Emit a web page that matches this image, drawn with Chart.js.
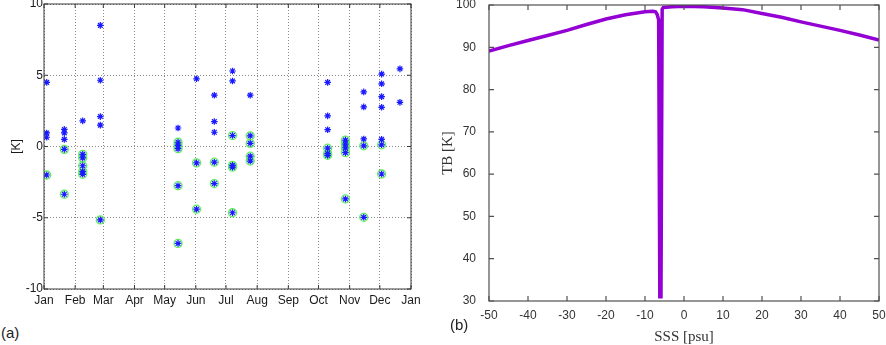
<!DOCTYPE html>
<html>
<head>
<meta charset="utf-8">
<script src="https://cdn.jsdelivr.net/npm/chart.js@4"></script>
<style>
  body { margin: 0; background: #fff; width: 886px; height: 345px; overflow: hidden; position: relative; }
  canvas { position: absolute; }
  #ecarts { left: 0; top: -10px; }
  #tb { left: 420px; top: -10px; }
  .lettre { position: absolute; font: 15px "Liberation Sans", Arial, sans-serif; color: #222; }
</style>
</head>
<body>
<canvas id="ecarts" width="440" height="320"></canvas>
<canvas id="tb" width="476" height="355"></canvas>
<div class="lettre" style="left:1px; top:324px;">(a)</div>
<div class="lettre" style="left:450px; top:316px;">(b)</div>
<script>
// (a) ecarts en K, jour de l'annee (0 = 1er janvier)
const jours = [
  2.7, 2.7, 2.7, 2.7,
  20.2, 20.2, 20.2, 20.2, 20.2,
  38.5, 38.5, 38.5, 38.5, 38.5, 38.5,
  56, 56, 56, 56, 56,
  133.3, 133.3, 133.3, 133.3, 133.3, 133.3,
  151.7, 151.7, 151.7,
  169.4, 169.4, 169.4, 169.4, 169.4,
  187.5, 187.5, 187.5, 187.5, 187.5, 187.5,
  205.1, 205.1, 205.1, 205.1, 205.1,
  282.1, 282.1, 282.1, 282.1, 282.1, 282.1,
  299.8, 299.8, 299.8, 299.8, 299.8,
  318, 318, 318, 318, 318,
  335.8, 335.8, 335.8, 335.8, 335.8, 335.8, 335.8,
  354, 354
];
const ecartsK = [
  4.5, 0.95, 0.65, -2.0,
  1.2, 0.95, 0.5, -0.2, -3.35,
  1.8, -0.55, -0.8, -1.35, -1.75, -1.95,
  8.5, 4.65, 2.1, 1.5, -5.15,
  1.3, 0.3, 0.08, -0.15, -2.75, -6.8,
  4.75, -1.15, -4.4,
  3.6, 1.75, 1.0, -1.1, -2.6,
  5.3, 4.6, 0.77, -1.32, -1.45, -4.65,
  3.6, 0.75, 0.22, -0.68, -1.02,
  4.5, 2.15, 1.18, -0.12, -0.5, -0.62,
  0.45, 0.17, -0.1, -0.43, -3.68,
  3.83, 2.78, 0.53, 0.05, -4.97,
  5.08, 4.4, 3.5, 2.75, 0.5, 0.12, -1.93,
  5.45, 3.1
];
// 1 = point entoure d'un cercle vert
const entoures = [
  0, 0, 0, 1,
  0, 0, 0, 1, 1,
  0, 1, 1, 1, 1, 1,
  0, 0, 0, 0, 1,
  0, 1, 1, 1, 1, 1,
  0, 1, 1,
  0, 0, 0, 1, 1,
  0, 0, 1, 1, 1, 1,
  0, 1, 1, 1, 1,
  0, 0, 0, 1, 1, 1,
  1, 1, 1, 1, 1,
  0, 0, 0, 1, 1,
  0, 0, 0, 0, 0, 1, 1,
  0, 0
];
const debutsMois = [0, 31, 59, 90, 120, 151, 181, 212, 243, 273, 304, 334, 365];
const nomsMois = ["Jan", "Feb", "Mar", "Apr", "May", "Jun", "Jul", "Aug", "Sep", "Oct", "Nov", "Dec", "Jan"];
const ticksK = [-10, -5, 0, 5, 10];

// (b) TB en fonction de SSS
const sss = [-50, -45, -40, -35, -30, -25, -20, -15, -10, -8, -7.3, -6.9, -6.5, -6.2, -5.9, -5.6, -5.3,
  -3, 0, 5, 10, 15, 20, 25, 30, 35, 40, 45, 50];
const tbK = [89.1, 90.4, 91.6, 92.8, 94.0, 95.4, 96.7, 97.7, 98.4, 98.5, 98.4, 97.8, 96.5, 31, 31, 99.0, 99.4,
  99.6, 99.7, 99.6, 99.3, 98.9, 98.0, 97.1, 96.0, 95.0, 94.0, 92.9, 91.7];
const ticksSss = [-50, -40, -30, -20, -10, 0, 10, 20, 30, 40, 50];
const ticksTb = [30, 40, 50, 60, 70, 80, 90, 100];

// cadre + petites graduations vers l'interieur
const cadre = {
  id: "cadre",
  afterDraw(chart, args, opts) {
    const { ctx, chartArea: a, scales } = chart;
    const L = opts.longueur;
    ctx.save();
    ctx.strokeStyle = opts.couleur;
    ctx.lineWidth = opts.epaisseur;
    ctx.beginPath();
    scales.x.ticks.forEach(t => {
      const px = scales.x.getPixelForValue(t.value);
      ctx.moveTo(px, a.bottom); ctx.lineTo(px, a.bottom - L);
      ctx.moveTo(px, a.top); ctx.lineTo(px, a.top + L);
    });
    scales.y.ticks.forEach(t => {
      const py = scales.y.getPixelForValue(t.value);
      ctx.moveTo(a.left, py); ctx.lineTo(a.left + L, py);
      ctx.moveTo(a.right, py); ctx.lineTo(a.right - L, py);
    });
    ctx.stroke();
    ctx.strokeRect(a.left, a.top, a.right - a.left, a.bottom - a.top);
    ctx.restore();
  }
};

const etoiles = [], cercles = [];
jours.forEach((j, i) => {
  etoiles.push({ x: j, y: ecartsK[i] });
  if (entoures[i]) cercles.push({ x: j, y: ecartsK[i] });
});

const policeA = { family: "'Liberation Sans', Arial, sans-serif", size: 12 };

new Chart(document.getElementById("ecarts"), {
  type: "scatter",
  data: {
    datasets: [
      {
        data: etoiles,
        pointStyle: "star",
        pointRadius: 3.3,
        borderColor: "#1a1aff",
        backgroundColor: "#1a1aff",
        pointBorderWidth: 1.2,
        order: 1
      },
      {
        data: cercles,
        pointStyle: "circle",
        pointRadius: 4,
        borderColor: "#5cef5c",
        backgroundColor: "rgba(0,0,0,0)",
        pointBorderWidth: 1.3,
        order: 2
      }
    ]
  },
  plugins: [cadre],
  options: {
    responsive: false,
    animation: false,
    layout: { padding: { top: 14, right: 29, left: 0, bottom: 0 } },
    plugins: {
      legend: { display: false },
      tooltip: { enabled: false },
      cadre: { couleur: "#3a3a3a", epaisseur: 1, longueur: 4 }
    },
    scales: {
      x: {
        type: "linear",
        min: 0,
        max: 365,
        afterBuildTicks: s => { s.ticks = debutsMois.map(v => ({ value: v })); },
        afterFit: s => { s.height = 21; },
        ticks: {
          font: policeA,
          color: "#1a1a1a",
          padding: 4,
          maxRotation: 0,
          autoSkip: false,
          callback: (v, i) => nomsMois[i]
        },
        grid: { color: "#8a8a8a", drawTicks: false, borderDash: [1, 2] },
        border: { display: false, dash: [1, 2] }
      },
      y: {
        min: -10,
        max: 10,
        afterBuildTicks: s => { s.ticks = ticksK.map(v => ({ value: v })); },
        afterFit: s => { s.width = 44; },
        title: { display: true, text: "[K]", font: policeA, color: "#1a1a1a", padding: { top: 9, bottom: 0 } },
        ticks: { font: policeA, color: "#1a1a1a", padding: 1 },
        grid: { color: "#8a8a8a", drawTicks: false, borderDash: [1, 2] },
        border: { display: false, dash: [1, 2] }
      }
    }
  }
});

const policeB = { family: "'Liberation Sans', Arial, sans-serif", size: 12 };
const policeTitre = { family: "'Liberation Serif', 'DejaVu Serif', serif", size: 15 };

new Chart(document.getElementById("tb"), {
  type: "scatter",
  data: {
    datasets: [{
      data: sss.map((s, i) => ({ x: s, y: tbK[i] })),
      showLine: true,
      borderColor: "#9400d3",
      borderWidth: 3.5,
      pointRadius: 0,
      tension: 0
    }]
  },
  plugins: [cadre],
  options: {
    responsive: false,
    animation: false,
    layout: { padding: { top: 15, right: 17, left: 0, bottom: 0 } },
    plugins: {
      legend: { display: false },
      tooltip: { enabled: false },
      cadre: { couleur: "#505050", epaisseur: 1.2, longueur: 5 }
    },
    scales: {
      x: {
        type: "linear",
        min: -50,
        max: 50,
        afterBuildTicks: s => { s.ticks = ticksSss.map(v => ({ value: v })); },
        afterFit: s => { s.height = 44; },
        title: { display: true, text: "SSS [psu]", font: policeTitre, color: "#333", padding: { top: 0, bottom: -1 } },
        ticks: { font: policeB, color: "#333", padding: -1, maxRotation: 0, autoSkip: false },
        grid: { display: false },
        border: { display: false }
      },
      y: {
        min: 30,
        max: 100,
        afterBuildTicks: s => { s.ticks = ticksTb.map(v => ({ value: v })); },
        afterFit: s => { s.width = 69; },
        title: { display: true, text: "TB [K]", font: policeTitre, color: "#333", padding: { top: 19, bottom: 0 } },
        ticks: { font: policeB, color: "#333", padding: 5 },
        grid: { display: false },
        border: { display: false }
      }
    }
  }
});
</script>
</body>
</html>
